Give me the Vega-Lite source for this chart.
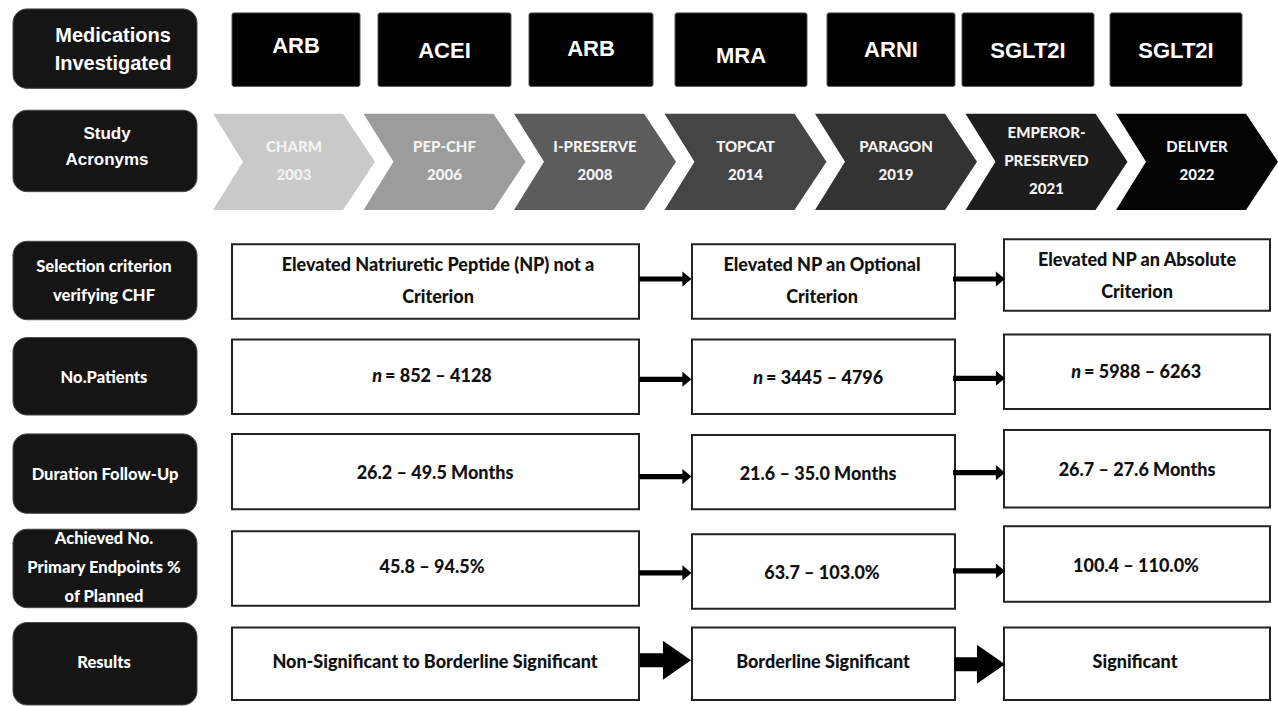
{
  "$schema": "https://vega.github.io/schema/vega-lite/v6.json",
  "width": 1278,
  "height": 706,
  "autosize": {"type": "fit", "contains": "padding"},
  "padding": 0,
  "background": "white",
  "config": {"view": {"stroke": null}},
  "datasets": {
    "labels": [
      {"label": "Medications\nInvestigated", "kind": "a1", "x0": 13, "x1": 197, "y0": 9, "y1": 89, "tx": 113, "ty": 36},
      {"label": "Study\nAcronyms", "kind": "a2", "x0": 13, "x1": 197, "y0": 111, "y1": 193, "tx": 107, "ty": 135},
      {"label": "Selection criterion\nverifying CHF", "kind": "c", "x0": 13, "x1": 197, "y0": 243, "y1": 322, "tx": 104, "ty": 269},
      {"label": "No.Patients", "kind": "c", "x0": 13, "x1": 197, "y0": 340, "y1": 418, "tx": 104, "ty": 381},
      {"label": "Duration Follow-Up", "kind": "c", "x0": 13, "x1": 197, "y0": 437, "y1": 517, "tx": 105, "ty": 478},
      {"label": "Achieved No.\nPrimary Endpoints %\nof Planned", "kind": "c", "x0": 13, "x1": 197, "y0": 533, "y1": 612, "tx": 104, "ty": 543},
      {"label": "Results", "kind": "c", "x0": 13, "x1": 197, "y0": 627, "y1": 710, "tx": 104, "ty": 668}
    ],
    "meds": [
      {"med": "ARB", "x0": 232, "x1": 360, "tx": 296, "ty": 46},
      {"med": "ACEI", "x0": 378, "x1": 511, "tx": 444.5, "ty": 51},
      {"med": "ARB", "x0": 529, "x1": 653, "tx": 591, "ty": 49},
      {"med": "MRA", "x0": 675, "x1": 807, "tx": 741, "ty": 56},
      {"med": "ARNI", "x0": 827, "x1": 955, "tx": 891, "ty": 50},
      {"med": "SGLT2I", "x0": 962, "x1": 1094, "tx": 1028, "ty": 51},
      {"med": "SGLT2I", "x0": 1110, "x1": 1242, "tx": 1176, "ty": 51}
    ],
    "studies": [
      {"study": "CHARM\n2003", "cx": 294, "cy": 163, "ty": 148},
      {"study": "PEP-CHF\n2006", "cx": 444.5, "cy": 163, "ty": 148},
      {"study": "I-PRESERVE\n2008", "cx": 595, "cy": 163, "ty": 148},
      {"study": "TOPCAT\n2014", "cx": 745.5, "cy": 163, "ty": 148},
      {"study": "PARAGON\n2019", "cx": 896, "cy": 163, "ty": 148},
      {"study": "EMPEROR-\nPRESERVED\n2021", "cx": 1046.5, "cy": 163, "ty": 134},
      {"study": "DELIVER\n2022", "cx": 1197, "cy": 163, "ty": 148}
    ],
    "boxes": [
      {"txt": "Elevated Natriuretic Peptide (NP) not a\nCriterion", "x0": 232, "x1": 639, "y0": 246, "y1": 321, "tx": 438, "ty": 268},
      {"txt": "Elevated NP an Optional\nCriterion", "x0": 692, "x1": 955, "y0": 246, "y1": 321, "tx": 822, "ty": 268},
      {"txt": "Elevated NP an Absolute\nCriterion", "x0": 1004, "x1": 1270, "y0": 241, "y1": 313, "tx": 1137, "ty": 263},
      {"txt": "", "x0": 232, "x1": 639, "y0": 342, "y1": 417, "tx": 435.5, "ty": 380},
      {"txt": "", "x0": 692, "x1": 955, "y0": 342, "y1": 417, "tx": 823.5, "ty": 382},
      {"txt": "", "x0": 1004, "x1": 1270, "y0": 337, "y1": 412, "tx": 1137, "ty": 376},
      {"txt": "26.2 – 49.5 Months", "x0": 232, "x1": 639, "y0": 437, "y1": 513, "tx": 435, "ty": 477},
      {"txt": "21.6 – 35.0 Months", "x0": 692, "x1": 955, "y0": 438, "y1": 513, "tx": 818, "ty": 478},
      {"txt": "26.7 – 27.6 Months", "x0": 1004, "x1": 1270, "y0": 433, "y1": 511, "tx": 1137, "ty": 474},
      {"txt": "45.8 – 94.5%", "x0": 232, "x1": 639, "y0": 535, "y1": 610, "tx": 432, "ty": 572},
      {"txt": "63.7 – 103.0%", "x0": 692, "x1": 955, "y0": 538, "y1": 613, "tx": 822, "ty": 578},
      {"txt": "100.4 – 110.0%", "x0": 1004, "x1": 1270, "y0": 530, "y1": 606, "tx": 1136, "ty": 571},
      {"txt": "Non-Significant to Borderline Significant", "x0": 232, "x1": 639, "y0": 632, "y1": 705, "tx": 435, "ty": 668},
      {"txt": "Borderline Significant", "x0": 692, "x1": 955, "y0": 632, "y1": 705, "tx": 823, "ty": 668},
      {"txt": "Significant", "x0": 1004, "x1": 1270, "y0": 632, "y1": 705, "tx": 1135, "ty": 668}
    ],
    "ntext": [
      {"n": "n", "rest": "= 852 – 4128", "ax": 382, "ty": 380},
      {"n": "n", "rest": "= 3445 – 4796", "ax": 763, "ty": 382},
      {"n": "n", "rest": "= 5988 – 6263", "ax": 1081, "ty": 376}
    ],
    "thin": [
      {"cx": 665.5, "cy": 281}, {"cx": 979, "cy": 281},
      {"cx": 665.5, "cy": 382}, {"cx": 979, "cy": 381},
      {"cx": 665.5, "cy": 480}, {"cx": 979, "cy": 476},
      {"cx": 665.5, "cy": 577}, {"cx": 979, "cy": 575}
    ],
    "thick": [
      {"cx": 665.5, "cy": 665}, {"cx": 979.5, "cy": 669}
    ]
  },
  "layer": [
    {
      "data": {"name": "labels"},
      "mark": {"type": "rect", "fill": "#151515", "stroke": "#4a4a4a", "strokeWidth": 1, "cornerRadius": 14},
      "encoding": {
        "x": {"field": "x0", "type": "quantitative", "scale": {"domain": [0, 1278], "nice": false, "zero": false}, "axis": null},
        "x2": {"field": "x1"},
        "y": {"field": "y0", "type": "quantitative", "scale": {"domain": [0, 706], "nice": false, "zero": false, "reverse": true}, "axis": null},
        "y2": {"field": "y1"}
      }
    },
    {
      "data": {"name": "labels"},
      "transform": [{"filter": "datum.kind == 'a1'"}],
      "mark": {"type": "text", "color": "white", "font": "Liberation Sans", "fontWeight": "bold", "fontSize": 20, "lineBreak": "\n", "lineHeight": 28, "align": "center", "baseline": "middle"},
      "encoding": {
        "x": {"field": "tx", "type": "quantitative", "scale": {"domain": [0, 1278], "nice": false, "zero": false}, "axis": null},
        "y": {"field": "ty", "type": "quantitative", "scale": {"domain": [0, 706], "nice": false, "zero": false, "reverse": true}, "axis": null},
        "text": {"field": "label"}
      }
    },
    {
      "data": {"name": "labels"},
      "transform": [{"filter": "datum.kind == 'a2'"}],
      "mark": {"type": "text", "color": "white", "font": "Liberation Sans", "fontWeight": "bold", "fontSize": 17, "lineBreak": "\n", "lineHeight": 26, "align": "center", "baseline": "middle"},
      "encoding": {
        "x": {"field": "tx", "type": "quantitative", "scale": {"domain": [0, 1278], "nice": false, "zero": false}, "axis": null},
        "y": {"field": "ty", "type": "quantitative", "scale": {"domain": [0, 706], "nice": false, "zero": false, "reverse": true}, "axis": null},
        "text": {"field": "label"}
      }
    },
    {
      "data": {"name": "labels"},
      "transform": [{"filter": "datum.kind == 'c'"}],
      "mark": {"type": "text", "color": "white", "font": "Lato", "fontWeight": 900, "fontSize": 16.5, "lineBreak": "\n", "lineHeight": 29, "align": "center", "baseline": "middle"},
      "encoding": {
        "x": {"field": "tx", "type": "quantitative", "scale": {"domain": [0, 1278], "nice": false, "zero": false}, "axis": null},
        "y": {"field": "ty", "type": "quantitative", "scale": {"domain": [0, 706], "nice": false, "zero": false, "reverse": true}, "axis": null},
        "text": {"field": "label"}
      }
    },
    {
      "data": {"name": "meds"},
      "mark": {"type": "rect", "fill": "#000000", "stroke": "#555555", "strokeWidth": 1, "cornerRadius": 2},
      "encoding": {
        "x": {"field": "x0", "type": "quantitative", "scale": {"domain": [0, 1278], "nice": false, "zero": false}, "axis": null},
        "x2": {"field": "x1"},
        "y": {"datum": 13, "type": "quantitative", "scale": {"domain": [0, 706], "nice": false, "zero": false, "reverse": true}, "axis": null},
        "y2": {"datum": 87}
      }
    },
    {
      "data": {"name": "meds"},
      "mark": {"type": "text", "color": "white", "font": "Liberation Sans", "fontWeight": "bold", "fontSize": 22, "align": "center", "baseline": "middle"},
      "encoding": {
        "x": {"field": "tx", "type": "quantitative", "scale": {"domain": [0, 1278], "nice": false, "zero": false}, "axis": null},
        "y": {"field": "ty", "type": "quantitative", "scale": {"domain": [0, 706], "nice": false, "zero": false, "reverse": true}, "axis": null},
        "text": {"field": "med"}
      }
    },
    {
      "data": {"name": "studies"},
      "mark": {"type": "point", "shape": "M-1,-0.593L0.605,-0.593L1,0L0.605,0.593L-1,0.593L-0.63,0Z", "size": 26244, "filled": true, "opacity": 1, "strokeWidth": 0},
      "encoding": {
        "x": {"field": "cx", "type": "quantitative", "scale": {"domain": [0, 1278], "nice": false, "zero": false}, "axis": null},
        "y": {"field": "cy", "type": "quantitative", "scale": {"domain": [0, 706], "nice": false, "zero": false, "reverse": true}, "axis": null},
        "color": {
          "field": "study", "type": "nominal", "legend": null,
          "scale": {
            "domain": ["CHARM\n2003", "PEP-CHF\n2006", "I-PRESERVE\n2008", "TOPCAT\n2014", "PARAGON\n2019", "EMPEROR-\nPRESERVED\n2021", "DELIVER\n2022"],
            "range": ["#c9c9c9", "#9c9c9c", "#5c5c5c", "#454545", "#333333", "#1d1d1d", "#030303"]
          }
        }
      }
    },
    {
      "data": {"name": "studies"},
      "mark": {"type": "text", "color": "#f4f4f4", "font": "Lato", "fontWeight": 900, "fontSize": 15, "lineBreak": "\n", "lineHeight": 28, "align": "center", "baseline": "middle"},
      "encoding": {
        "x": {"field": "cx", "type": "quantitative", "scale": {"domain": [0, 1278], "nice": false, "zero": false}, "axis": null},
        "y": {"field": "ty", "type": "quantitative", "scale": {"domain": [0, 706], "nice": false, "zero": false, "reverse": true}, "axis": null},
        "text": {"field": "study"}
      }
    },
    {
      "data": {"name": "boxes"},
      "mark": {"type": "rect", "fill": "white", "stroke": "#222222", "strokeWidth": 2},
      "encoding": {
        "x": {"field": "x0", "type": "quantitative", "scale": {"domain": [0, 1278], "nice": false, "zero": false}, "axis": null},
        "x2": {"field": "x1"},
        "y": {"field": "y0", "type": "quantitative", "scale": {"domain": [0, 706], "nice": false, "zero": false, "reverse": true}, "axis": null},
        "y2": {"field": "y1"}
      }
    },
    {
      "data": {"name": "boxes"},
      "mark": {"type": "text", "color": "#111111", "font": "Lato", "fontWeight": 900, "fontSize": 18, "lineBreak": "\n", "lineHeight": 32, "align": "center", "baseline": "middle"},
      "encoding": {
        "x": {"field": "tx", "type": "quantitative", "scale": {"domain": [0, 1278], "nice": false, "zero": false}, "axis": null},
        "y": {"field": "ty", "type": "quantitative", "scale": {"domain": [0, 706], "nice": false, "zero": false, "reverse": true}, "axis": null},
        "text": {"field": "txt"}
      }
    },
    {
      "data": {"name": "ntext"},
      "mark": {"type": "text", "color": "#111111", "font": "Lato", "fontWeight": 900, "fontStyle": "italic", "fontSize": 18, "align": "right", "baseline": "middle"},
      "encoding": {
        "x": {"field": "ax", "type": "quantitative", "scale": {"domain": [0, 1278], "nice": false, "zero": false}, "axis": null},
        "y": {"field": "ty", "type": "quantitative", "scale": {"domain": [0, 706], "nice": false, "zero": false, "reverse": true}, "axis": null},
        "text": {"field": "n"}
      }
    },
    {
      "data": {"name": "ntext"},
      "mark": {"type": "text", "color": "#111111", "font": "Lato", "fontWeight": 900, "fontSize": 18, "align": "left", "baseline": "middle", "dx": 3},
      "encoding": {
        "x": {"field": "ax", "type": "quantitative", "scale": {"domain": [0, 1278], "nice": false, "zero": false}, "axis": null},
        "y": {"field": "ty", "type": "quantitative", "scale": {"domain": [0, 706], "nice": false, "zero": false, "reverse": true}, "axis": null},
        "text": {"field": "rest"}
      }
    },
    {
      "data": {"name": "thin"},
      "mark": {"type": "point", "shape": "M-1,-0.1L0.65,-0.1L0.65,-0.29L1,0L0.65,0.29L0.65,0.1L-1,0.1Z", "size": 2704, "filled": true, "opacity": 1, "color": "#000000", "strokeWidth": 0},
      "encoding": {
        "x": {"field": "cx", "type": "quantitative", "scale": {"domain": [0, 1278], "nice": false, "zero": false}, "axis": null},
        "y": {"field": "cy", "type": "quantitative", "scale": {"domain": [0, 706], "nice": false, "zero": false, "reverse": true}, "axis": null}
      }
    },
    {
      "data": {"name": "thick"},
      "mark": {"type": "point", "shape": "M-1,-0.275L-0.1,-0.275L-0.1,-0.765L1,0L-0.1,0.765L-0.1,0.275L-1,0.275Z", "size": 2601, "filled": true, "opacity": 1, "color": "#000000", "strokeWidth": 0},
      "encoding": {
        "x": {"field": "cx", "type": "quantitative", "scale": {"domain": [0, 1278], "nice": false, "zero": false}, "axis": null},
        "y": {"field": "cy", "type": "quantitative", "scale": {"domain": [0, 706], "nice": false, "zero": false, "reverse": true}, "axis": null}
      }
    }
  ]
}
